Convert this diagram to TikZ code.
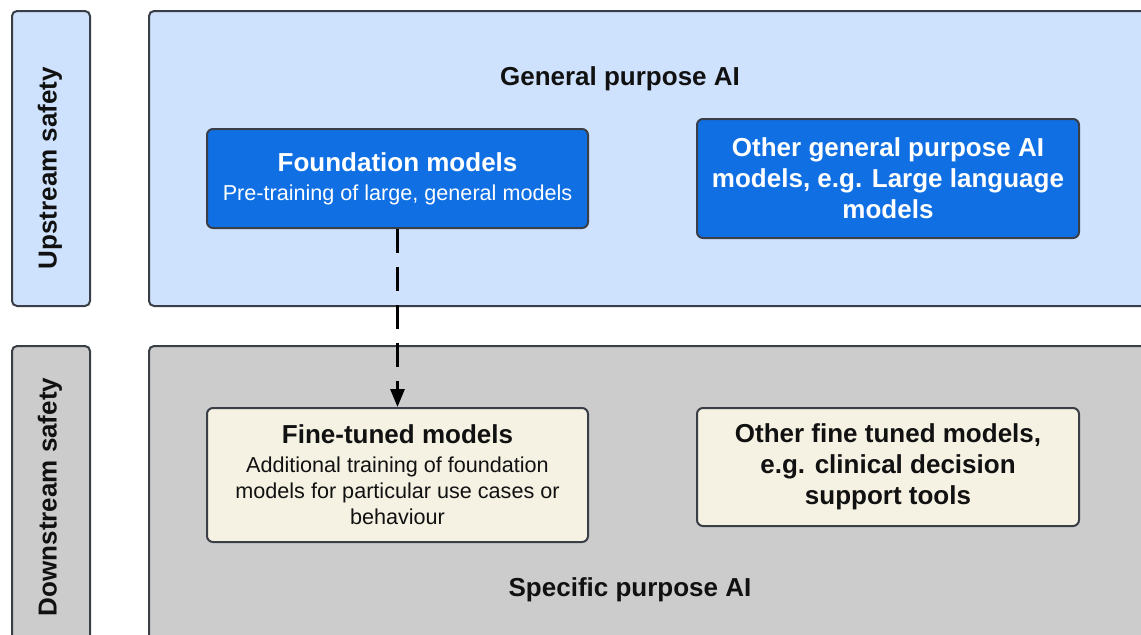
\documentclass[tikz,border=0pt]{standalone}
\usepackage{fontspec}
\setmainfont{Liberation Sans}
\usetikzlibrary{arrows.meta, positioning}
\definecolor{upblue}{HTML}{CFE2FD}
\definecolor{downgrey}{HTML}{CCCCCC}
\definecolor{modelblue}{HTML}{1070E3}
\definecolor{tunedcream}{HTML}{F5F2E3}
\definecolor{edgegrey}{HTML}{3A3F47}
\definecolor{inkblack}{HTML}{111111}

\tikzset{
  panel/.style={draw=edgegrey, line width=1pt, rounded corners=2.5pt},
  sidelabel/.style={rotate=90, text=inkblack, font=\bfseries\fontsize{13}{15.5}\selectfont},
  areatitle/.style={text=inkblack, font=\bfseries\fontsize{13}{15.5}\selectfont},
  genbox/.style={draw=edgegrey, fill=modelblue, text=white, line width=1pt,
    rounded corners=3pt, align=center, inner sep=0pt},
  tunedbox/.style={draw=edgegrey, fill=tunedcream, text=inkblack, line width=1pt,
    rounded corners=3pt, align=center, inner sep=0pt},
  flow/.style={line width=1.5pt, dash pattern=on 12pt off 7pt,
    -{Triangle[length=9pt, width=7pt]}}
}
\newcommand{\boxtitle}[1]{{\bfseries\fontsize{13}{15.5}\selectfont #1}}

\begin{document}
\begin{tikzpicture}[x=0.5pt, y=-0.5pt]
\useasboundingbox (0,0) rectangle (1141,634);
\clip (0,0) rectangle (1141,634);

% side labels
\draw[panel, fill=upblue] (12,11) rectangle (90,306);
\draw[panel, fill=downgrey] (12,346) rectangle (90,660);
\node[sidelabel] (upstream) at (50,168) {Upstream safety};
\node[sidelabel] (downstream) at (50,497) {Downstream safety};

% areas
\draw[panel, fill=upblue] (149,11) rectangle (1170,306);
\draw[panel, fill=downgrey] (149,346) rectangle (1170,660);
\node[areatitle] (general) at (620,79) {General purpose AI};
\node[areatitle] (specific) at (630,590) {Specific purpose AI};

% model boxes
\node[genbox, minimum width=190.5pt, minimum height=49.5pt,
  font=\fontsize{10.8}{13}\selectfont] (found) at (397.5,178.5)
  {\boxtitle{Foundation models}\\[1.5pt]Pre-training of large, general models};
\node[genbox, minimum width=191pt, minimum height=59.5pt,
  font=\bfseries\fontsize{13}{15.5}\selectfont] (othergen) at (888,178.5)
  {Other general purpose AI\\models, e.g. Large language\\models};
\node[tunedbox, minimum width=190.5pt, minimum height=67pt,
  font=\fontsize{10.8}{13}\selectfont] (fine) at (397.5,475)
  {\boxtitle{Fine-tuned models}\\[1.5pt]Additional training of foundation\\models for particular use cases or\\behaviour};
\node[tunedbox, minimum width=191pt, minimum height=59pt,
  font=\bfseries\fontsize{13}{15.5}\selectfont] (otherfine) at (888,467)
  {Other fine tuned models,\\e.g. clinical decision\\support tools};

% connector
\draw[flow] (found.south) -- (fine.north);
\end{tikzpicture}
\end{document}
